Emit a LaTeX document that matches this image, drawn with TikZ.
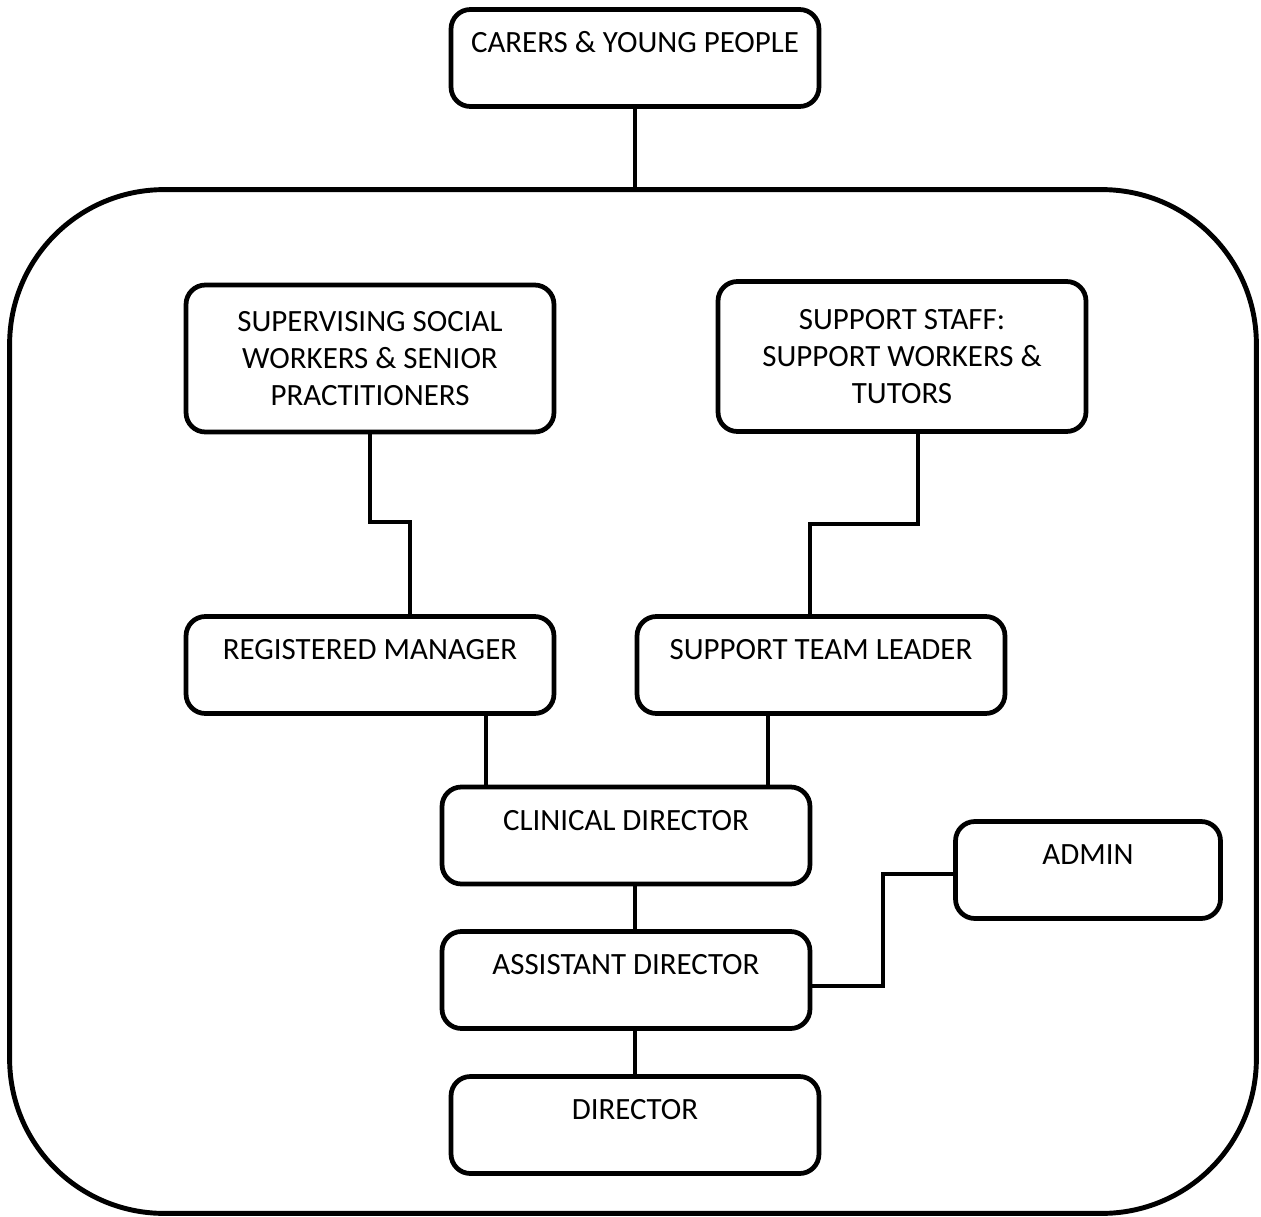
\documentclass[tikz,border=0pt]{standalone}
\usepackage{fontspec}
\setmainfont{Carlito}
\usetikzlibrary{positioning}

\tikzset{
	basic/.style  = {draw, line width=2.7pt, rounded corners=11pt, align=center,
		font=\fontsize{17.6}{21.3}\selectfont, rectangle, minimum width=7.36cm},
	single/.style = {basic, minimum height=1.94cm, text height=11.2pt, text depth=17pt},
	multi/.style  = {basic, minimum height=2.94cm},
	frame/.style  = {draw, line width=2.8pt, rounded corners=88pt, rectangle,
		minimum width=24.94cm, minimum height=20.48cm},
	link/.style   = {draw, line width=2.2pt}
}

\begin{document}
\begin{tikzpicture}[x=0.02cm, y=-0.02cm]
\useasboundingbox (0,0) rectangle (1261,1217);

% outer frame and the box above it
\node[frame] (org) at (633,701.5) {};
\node[single] (carers) at (635,58) {CARERS \& YOUNG PEOPLE};

% top row
\node[multi] (sup) at (370,358.5) {SUPERVISING SOCIAL\\WORKERS \& SENIOR\\PRACTITIONERS};
\node[multi, minimum height=3cm] (staff) at (902,356.5) {SUPPORT STAFF:\\SUPPORT WORKERS \&\\TUTORS};

% middle row
\node[single] (rm) at (370,665) {REGISTERED MANAGER};
\node[single] (stl) at (821,665) {SUPPORT TEAM LEADER};

% directors
\node[single] (cd) at (626,835.5) {CLINICAL DIRECTOR};
\node[single, minimum width=5.3cm] (admin) at (1088,870) {ADMIN};
\node[single] (ad) at (626,980) {ASSISTANT DIRECTOR};
\node[single] (dir) at (635,1125) {DIRECTOR};

% connectors
\draw[link] (carers.south) -- (carers.south |- org.north);
\draw[link] (sup.south) -- ++(0,-1.76cm) -| ([xshift=0.8cm]rm.north);
\draw[link] ([xshift=0.32cm]staff.south) -- ++(0,-1.8cm) -| ([xshift=-0.22cm]stl.north);
\coordinate (rmout) at ([xshift=2.32cm]rm.south);
\coordinate (stlout) at ([xshift=-1.06cm]stl.south);
\draw[link] (rmout) -- (rmout |- cd.north);
\draw[link] (stlout) -- (stlout |- cd.north);
\draw[link] (cd.south -| dir.north) -- (ad.north -| dir.north);
\draw[link] (ad.south -| dir.north) -- (dir.north);
\draw[link] ([yshift=-0.12cm]ad.east) -- ++(1.42cm,0) |- ([yshift=-0.08cm]admin.west);

\end{tikzpicture}
\end{document}
